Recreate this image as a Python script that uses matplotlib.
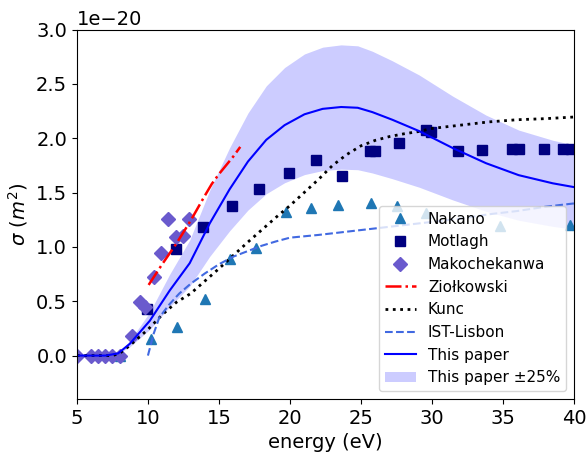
import numpy as np
import matplotlib
matplotlib.use("Agg")
import matplotlib.pyplot as plt

SCALE = 1e-20

# Nakano (triangles)
nakano_e = [8.0, 10.25, 12.05, 14.05, 15.75, 17.6, 19.75, 21.5, 23.4, 25.7, 27.5, 29.6, 34.8, 39.7]
nakano_s = [0.0, 0.15, 0.26, 0.52, 0.89, 0.99, 1.32, 1.36, 1.385, 1.40, 1.375, 1.31, 1.19, 1.20]

# Motlagh (squares)
motlagh_e = [9.95, 11.95, 13.9, 15.9, 17.85, 19.9, 21.85, 23.65, 25.65, 26.0, 27.65, 29.6, 29.9, 31.8, 33.5, 35.6, 36.15, 37.9, 39.2, 39.75]
motlagh_s = [0.43, 0.98, 1.18, 1.38, 1.53, 1.68, 1.80, 1.655, 1.88, 1.88, 1.955, 2.08, 2.055, 1.88, 1.89, 1.90, 1.90, 1.90, 1.90, 1.90]

# Makochekanwa (diamonds)
mako_e = [5.0, 6.0, 6.5, 7.0, 7.5, 8.0, 8.9, 9.45, 9.8, 10.4, 10.95, 11.4, 11.95, 12.45, 12.9]
mako_s = [0.0, 0.0, 0.0, 0.0, 0.0, 0.0, 0.18, 0.49, 0.45, 0.72, 0.945, 1.255, 1.09, 1.10, 1.255]

# Ziolkowski (dash-dot)
ziol_e = [10.05, 11.0, 12.0, 13.0, 14.0, 14.5, 15.0, 16.0, 16.5]
ziol_s = [0.65, 0.84, 1.03, 1.24, 1.47, 1.58, 1.67, 1.83, 1.92]

# Kunc (dotted)
kunc_e = [5, 6, 7, 7.5, 8, 8.7, 10, 11, 12, 13, 14, 15, 16, 17, 18, 19, 20, 21, 22, 23, 24, 25, 26, 27, 28, 29, 30, 32, 34, 36, 38, 40]
kunc_s = [0.0, 0.0, 0.0, 0.0, 0.02, 0.09, 0.24, 0.375, 0.49, 0.57, 0.685, 0.80, 0.92, 1.04, 1.155, 1.27, 1.38, 1.50, 1.62, 1.75, 1.85, 1.93, 1.98, 2.015, 2.04, 2.06, 2.09, 2.12, 2.15, 2.17, 2.18, 2.195]

# IST-Lisbon (dashed)
ist_e = [10.0, 10.4, 10.8, 11.5, 12.2, 13.0, 14.0, 15.0, 16.0, 17.0, 18.0, 19.0, 20.0, 22.0, 24.0, 26.0, 28.0, 30.0, 32.0, 34.0, 36.0, 38.0, 40.0]
ist_s = [0.0, 0.2, 0.35, 0.47, 0.57, 0.66, 0.755, 0.84, 0.91, 0.96, 1.01, 1.05, 1.085, 1.11, 1.14, 1.17, 1.20, 1.23, 1.26, 1.30, 1.33, 1.37, 1.40]

# This paper (solid) with +-25% band
paper_e = [5, 6, 7, 7.9, 8.72, 10.13, 11.54, 12.94, 14.35, 15.75, 17.04, 18.33, 19.62, 21.02, 22.3, 23.6, 24.77, 25.8, 27.2, 29.1, 31.45, 33.8, 36.1, 38.5, 40.0]
paper_s = [0.0, 0.0, 0.0, 0.02, 0.108, 0.32, 0.60, 0.85, 1.216, 1.53, 1.785, 1.985, 2.12, 2.22, 2.27, 2.287, 2.28, 2.24, 2.17, 2.065, 1.91, 1.77, 1.66, 1.585, 1.55]

xticks = [5, 10, 15, 20, 25, 30, 35, 40]

plt.rcParams['font.size'] = 14

fig = plt.figure(figsize=(5.87, 4.54), dpi=100)
ax = fig.add_axes([0.131, 0.121, 0.978 - 0.131, 0.935 - 0.121])

s = lambda v: np.array(v) * SCALE

ax.plot(nakano_e, s(nakano_s), '^', color='#1f77b4', ms=7, ls='none', label='Nakano')
ax.plot(motlagh_e, s(motlagh_s), 's', color='navy', ms=7, ls='none', label='Motlagh')
ax.plot(mako_e, s(mako_s), 'D', color='slateblue', ms=7, ls='none', label='Makochekanwa')
ax.plot(ziol_e, s(ziol_s), '-.', color='red', lw=1.8, label='Ziołkowski')
ax.plot(kunc_e, s(kunc_s), ':', color='black', lw=2, label='Kunc')
ax.plot(ist_e, s(ist_s), '--', color='royalblue', lw=1.5, label='IST-Lisbon')
ax.plot(paper_e, s(paper_s), '-', color='blue', lw=1.5, label='This paper')
ax.fill_between(paper_e, s(paper_s) * 0.75, s(paper_s) * 1.25, color='blue', alpha=0.2,
                linewidth=0, label='This paper ±25%')

ax.set_xlim(5, 40)
ax.set_ylim(-0.4e-20, 3.0e-20)
ax.set_xticks(xticks)
ax.set_xlabel('energy (eV)')
ax.set_ylabel(r'$\sigma$ ($m^2$)')
ax.legend(loc='lower right', fontsize=11)

fig.savefig('out.png', dpi=100)
